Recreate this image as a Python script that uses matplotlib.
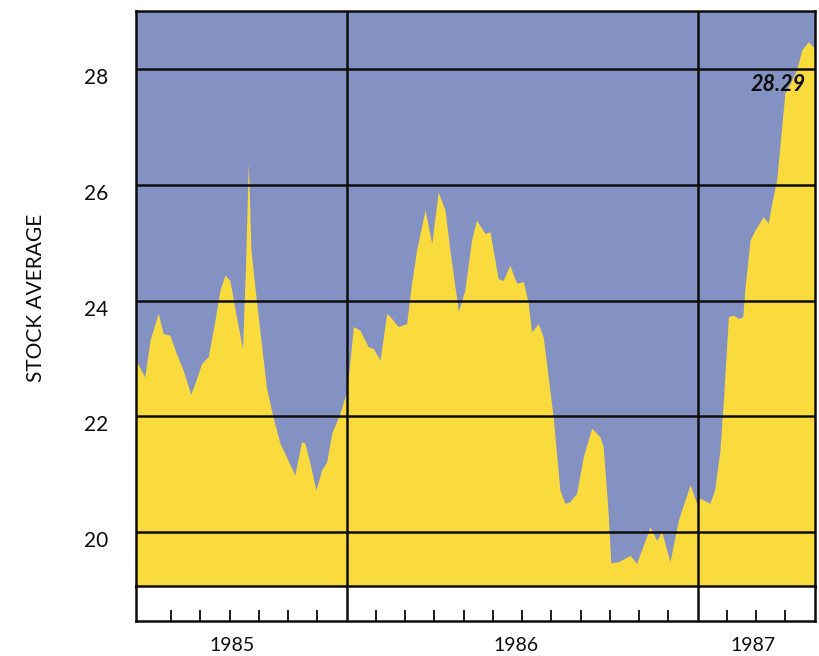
import matplotlib
matplotlib.use("Agg")
from matplotlib import pyplot as plt
from matplotlib.transforms import ScaledTranslation, blended_transform_factory

plt.rcParams['font.family'] = ['Lato', 'DejaVu Sans']

# months counted from 1 Jan 1986 (negative = 1985)
months = [-7.21, -6.90, -6.72, -6.44, -6.27, -6.04, -5.84, -5.59, -5.33, -5.15,
          -4.96, -4.73, -4.50, -4.33, -4.16, -3.99, -3.78, -3.56, -3.46, -3.36,
          -3.27, -3.10, -2.93, -2.74, -2.51, -2.28, -2.11, -1.77, -1.54, -1.43,
          -1.25, -1.05, -0.85, -0.68, -0.51, -0.23, -0.06,
          0.01, 0.23, 0.45, 0.74, 0.91, 1.14, 1.37, 1.54, 1.76, 2.05,
          2.22, 2.39, 2.68, 2.91, 3.13, 3.36, 3.53, 3.82, 4.04, 4.27,
          4.44, 4.73, 4.90, 5.18, 5.35, 5.58, 5.81, 6.04, 6.21, 6.32,
          6.55, 6.72, 6.89, 7.06, 7.29, 7.46, 7.63, 7.86, 8.09, 8.38,
          8.66, 8.77, 8.94, 9.03, 9.29, 9.69, 9.91, 10.37, 10.60, 10.77,
          11.05, 11.34, 11.74, 11.97,
          12.08, 12.42, 12.59, 12.76, 12.88, 13.05, 13.22, 13.39, 13.54, 13.62,
          13.79, 13.96, 14.24, 14.41, 14.53, 14.70, 14.98, 15.16, 15.38, 15.56,
          15.78, 15.95, 16.01]

avg = [22.97, 22.68, 23.32, 23.78, 23.43, 23.40, 23.11, 22.80, 22.38, 22.62,
       22.91, 23.03, 23.66, 24.18, 24.44, 24.35, 23.75, 23.17, 24.53, 26.39,
       24.87, 24.07, 23.32, 22.49, 21.97, 21.53, 21.35, 20.98, 21.56, 21.53,
       21.18, 20.72, 21.07, 21.21, 21.70, 22.05, 22.33,
       22.42, 23.55, 23.49, 23.20, 23.17, 22.97, 23.78, 23.69, 23.55, 23.60,
       24.30, 24.87, 25.57, 24.99, 25.88, 25.57, 24.87, 23.81, 24.18, 25.05,
       25.39, 25.16, 25.19, 24.38, 24.35, 24.61, 24.30, 24.33, 23.95, 23.46,
       23.60, 23.37, 22.68, 21.99, 20.72, 20.49, 20.52, 20.66, 21.30, 21.79,
       21.64, 21.47, 20.32, 19.46, 19.48, 19.59, 19.45, 20.08, 19.85, 20.00,
       19.48, 20.20, 20.81, 20.49,
       20.58, 20.49, 20.75, 21.41, 22.28, 23.72, 23.75, 23.69, 23.72, 24.24,
       25.05, 25.22, 25.45, 25.34, 25.68, 26.09, 27.59, 27.76, 27.99, 28.34,
       28.48, 28.39, 28.29]

years = ['1985', '1986', '1987']
year_label_x = [-3.9, 5.8, 13.9]
year_breaks = [0, 12]
month_ticks = [-6, -5, -4, -3, -2, -1, 1, 2, 3, 4, 5, 6, 7, 8, 9, 10, 11, 13, 14, 15]
y_ticks = [20, 22, 24, 26, 28]

blue = '#8491c3'
yellow = '#fadb3e'
ink = '#0d0d0d'
x_min, x_max = -7.21, 16.01
y_min, y_max = 19.05, 29.02

fig = plt.figure(figsize=(8.2, 6.56), dpi=100)
ax = fig.add_axes([0.1655, 0.1059, 0.8284, 0.8780])
strip = fig.add_axes([0.1655, 0.0534, 0.8284, 0.0526])

# main panel
ax.set_facecolor(blue)
ax.fill_between(months, y_min, avg, color=yellow, lw=0, zorder=2)
for v in y_ticks:
    ax.axhline(v, color=ink, lw=1.8, zorder=3)
for b in year_breaks:
    ax.axvline(b, color=ink, lw=1.8, zorder=3)
ax.set_xlim(x_min, x_max)
ax.set_ylim(y_min, y_max)
ax.set_xticks([])
ax.set_yticks(y_ticks)
ax.set_yticklabels([str(v) for v in y_ticks], fontsize=15, color=ink)
ax.tick_params(axis='y', length=0, pad=20)
shift = ScaledTranslation(0, -7 / 100, fig.dpi_scale_trans)
for lab in ax.get_yticklabels():
    lab.set_transform(lab.get_transform() + shift)
for s in ax.spines.values():
    s.set_linewidth(1.8)
    s.set_color(ink)
    s.set_zorder(4)

ax.annotate(f"{avg[-1]:.2f}", xy=(months[-1], avg[-1]), xytext=(-9, -32),
            textcoords='offset pixels', ha='right', va='center',
            fontsize=15.5, fontweight='bold', fontstyle='italic', color=ink,
            zorder=5)

# month strip
strip.set_facecolor('white')
strip.set_xlim(x_min, x_max)
strip.set_ylim(0, 1)
strip.set_yticks([])
strip.set_xticks(month_ticks)
strip.tick_params(axis='x', direction='in', length=8, width=1.3, color=ink,
                  labelbottom=False)
for b in year_breaks:
    strip.axvline(b, color=ink, lw=1.8)
for s in strip.spines.values():
    s.set_linewidth(1.8)
    s.set_color(ink)

trans = blended_transform_factory(strip.transData, strip.transAxes)
for x, name in zip(year_label_x, years):
    strip.text(x, -0.87, name, transform=trans, ha='center', va='baseline',
               fontsize=14, color=ink)

fig.text(36 / 820, 1 - 298 / 656, 'STOCK AVERAGE', rotation=90,
         ha='center', va='center', fontsize=15, color=ink)

fig.savefig('out.png', dpi=100)
